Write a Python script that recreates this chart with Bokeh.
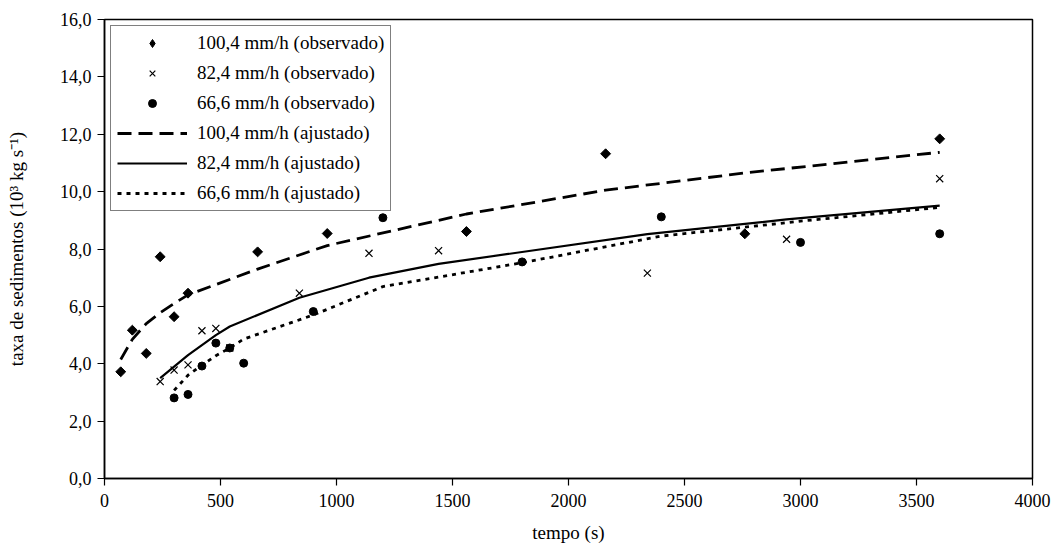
import math
from bokeh.plotting import figure
from bokeh.models import FixedTicker, CustomJSTickFormatter, Legend, LegendItem
from bokeh.embed import file_html
from bokeh.resources import INLINE

# ---- data ----
t_100 = [70, 120, 180, 240, 300, 360, 660, 960, 1560, 2160, 2760, 3600]
obs_100 = [3.72, 5.17, 4.36, 7.73, 5.64, 6.46, 7.90, 8.54, 8.61, 11.32, 8.53, 11.84]
fit_100 = [4.15, 4.85, 5.40, 5.78, 6.10, 6.40, 7.30, 8.12, 9.22, 10.05, 10.65, 11.37]

t_82 = [240, 300, 360, 420, 480, 540, 840, 1140, 1440, 2340, 2940, 3600]
obs_82 = [3.38, 3.78, 3.96, 5.15, 5.23, 4.55, 6.46, 7.85, 7.94, 7.16, 8.34, 10.45]
fit_82 = [3.50, 3.90, 4.30, 4.65, 5.00, 5.30, 6.30, 7.00, 7.48, 8.52, 9.03, 9.51]

t_66 = [300, 360, 420, 480, 540, 600, 900, 1200, 1800, 2400, 3000, 3600]
obs_66 = [2.81, 2.93, 3.92, 4.72, 4.55, 4.02, 5.82, 9.09, 7.55, 9.12, 8.23, 8.53]
fit_66 = [3.07, 3.60, 3.95, 4.28, 4.55, 4.86, 5.70, 6.69, 7.52, 8.45, 8.97, 9.45]

x_ticks = [0, 500, 1000, 1500, 2000, 2500, 3000, 3500, 4000]
y_ticks = [0, 2, 4, 6, 8, 10, 12, 14, 16]

labels = ["100,4 mm/h (observado)", "82,4 mm/h (observado)", "66,6 mm/h (observado)",
          "100,4 mm/h (ajustado)", "82,4 mm/h (ajustado)", "66,6 mm/h (ajustado)"]

FONT = "Liberation Serif"

p = figure(width=1059, height=545, x_range=(0, 4000), y_range=(0, 16),
           output_backend="svg", toolbar_location=None,
           min_border_left=104, min_border_right=27, min_border_top=19, min_border_bottom=65)
p.background_fill_color = "white"
p.border_fill_color = "white"
p.outline_line_color = "black"
p.outline_line_width = 1.5
p.xgrid.visible = False
p.ygrid.visible = False

# fitted lines
l100 = p.line(t_100, fit_100, line_color="black", line_width=2.8, line_dash="14 7")
l82 = p.line(t_82, fit_82, line_color="black", line_width=2.2)
l66 = p.line(t_66, fit_66, line_color="black", line_width=2.8, line_dash="4 5")

# observed points
m100 = p.scatter(t_100, obs_100, marker="square", angle=math.pi / 4, size=7, color="black")
m82 = p.scatter(t_82, obs_82, marker="x", size=10, line_color="black", line_width=1.2)
m66 = p.scatter(t_66, obs_66, marker="circle", size=8, color="black")
# legend-only swatch for the diamond series (legend ignores marker rotation); NaN -> not drawn in plot
m100_key = p.scatter(x=[math.nan], y=[math.nan], marker="diamond", size=11, color="black")

for ax in (p.xaxis[0], p.yaxis[0]):
    ax.axis_line_width = 1.5
    ax.major_tick_line_width = 1.2
    ax.major_tick_out = 7
    ax.major_tick_in = 0
    ax.minor_tick_out = 0
    ax.minor_tick_in = 0
    ax.major_label_text_font = FONT
    ax.major_label_text_font_size = "18px"
    ax.major_label_text_color = "black"
    ax.axis_label_text_font = FONT
    ax.axis_label_text_font_size = "19px"
    ax.axis_label_text_font_style = "normal"
    ax.axis_label_text_color = "black"

p.xaxis.ticker = FixedTicker(ticks=x_ticks)
p.yaxis.ticker = FixedTicker(ticks=y_ticks)
p.yaxis.formatter = CustomJSTickFormatter(code="return tick.toFixed(1).replace('.', ',');")
p.xaxis.axis_label = "tempo (s)"
p.yaxis.axis_label = "taxa de sedimentos (10\u00b3 kg s\u207b\u00b9)"
p.xaxis.major_label_standoff = 8
p.xaxis.axis_label_standoff = 12
p.yaxis.major_label_standoff = 6
p.yaxis.axis_label_standoff = 30

legend = Legend(items=[
    LegendItem(label=labels[0], renderers=[m100_key]),
    LegendItem(label=labels[1], renderers=[m82]),
    LegendItem(label=labels[2], renderers=[m66]),
    LegendItem(label=labels[3], renderers=[l100]),
    LegendItem(label=labels[4], renderers=[l82]),
    LegendItem(label=labels[5], renderers=[l66]),
], location="top_left")
legend.margin = 6
legend.padding = 6
legend.spacing = 8
legend.glyph_width = 70
legend.glyph_height = 20
legend.label_height = 20
legend.label_standoff = 10
legend.label_text_font = FONT
legend.label_text_font_size = "19px"
legend.label_text_color = "black"
legend.border_line_color = "black"
legend.border_line_width = 1.2
legend.background_fill_alpha = 1.0
p.add_layout(legend, "center")

open("out.html", "w").write(file_html(p, INLINE))
